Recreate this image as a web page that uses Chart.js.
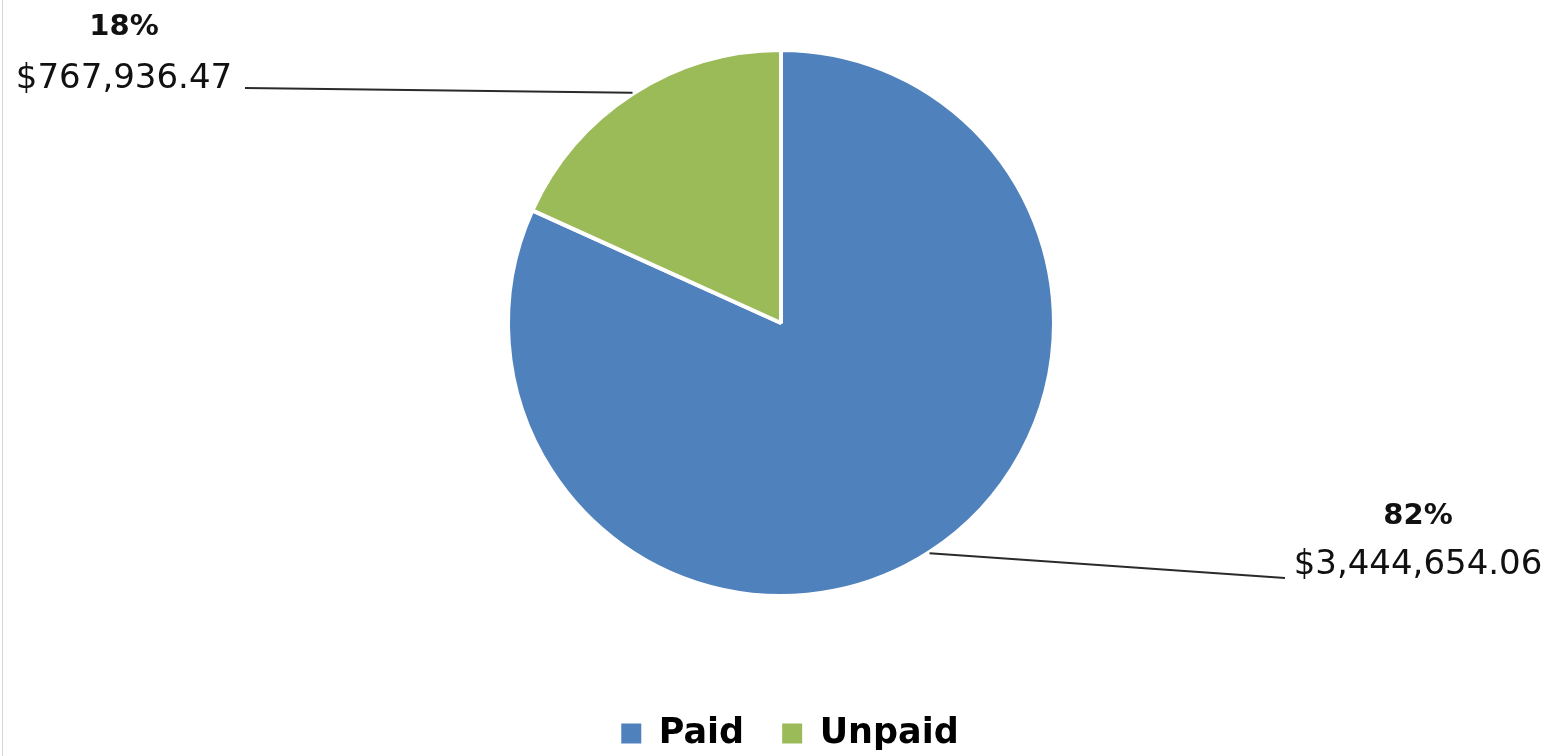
<!DOCTYPE html>
<html><head><meta charset="utf-8">
<script src="https://cdn.jsdelivr.net/npm/chart.js@4.4.1/dist/chart.umd.min.js"></script>
<style>
html,body{margin:0;padding:0;background:#fff;}
#wrap{position:relative;width:1554px;height:756px;overflow:hidden;}
#wrap:before{content:'';position:absolute;left:2px;top:0;width:1px;height:756px;background:#d6d6d6;}
canvas{display:block;}
</style>
</head><body>
<div id="wrap"><canvas id="c" width="1554" height="756" style="width:1554px;height:756px"></canvas></div>
<script>
const categories = ['Paid', 'Unpaid'];
const amounts = [3444654.06, 767936.47];
const sliceColors = ['#4F81BD', '#9BBB59'];

const fmtMoney = v => '$' + v.toLocaleString('en-US', {minimumFractionDigits: 2, maximumFractionDigits: 2});

const calloutPlugin = {
  id: 'callouts',
  afterLayout(chart, args, opts) {
    const lg = chart.legend;
    if (lg && opts.legendShift) { lg.left += opts.legendShift; lg.right += opts.legendShift; }
  },
  afterDatasetsDraw(chart, args, opts) {
    const ctx = chart.ctx;
    const meta = chart.getDatasetMeta(0);
    const vals = chart.data.datasets[0].data;
    const total = vals.reduce((a, b) => a + b, 0);
    meta.data.forEach((arc, i) => {
      const p = arc.getProps(['x', 'y', 'startAngle', 'endAngle', 'outerRadius'], true);
      const mid = (p.startAngle + p.endAngle) / 2;
      const ax = p.x + Math.cos(mid) * (p.outerRadius + 1);
      const ay = p.y + Math.sin(mid) * (p.outerRadius + 1);
      const a = opts.anchors[i];
      ctx.save();
      ctx.strokeStyle = '#2a2a2a';
      ctx.lineWidth = 2;
      ctx.beginPath();
      ctx.moveTo(ax, ay);
      ctx.lineTo(a.lx, a.ly);
      ctx.stroke();
      ctx.fillStyle = '#111';
      ctx.textAlign = 'center';
      ctx.textBaseline = 'alphabetic';
      ctx.font = 'bold 29px "DejaVu Sans"';
      ctx.fillText(Math.round(vals[i] / total * 100) + '%', a.tx, a.py);
      ctx.font = '34px "DejaVu Sans"';
      ctx.fillText(fmtMoney(vals[i]), a.tx, a.vy);
      ctx.restore();
    });
  }
};

new Chart(document.getElementById('c'), {
  type: 'pie',
  data: {
    labels: categories,
    datasets: [{
      data: amounts,
      backgroundColor: sliceColors,
      borderColor: '#ffffff',
      borderWidth: 4,
      radius: 273
    }]
  },
  options: {
    responsive: false,
    animation: false,
    layout: {padding: {top: 0, bottom: -5, left: 8, right: 0}},
    plugins: {
      legend: {
        position: 'bottom',
        title: {display: true, text: '', font: {size: 10}, padding: {top: 20, bottom: 0}},
        labels: {
          boxWidth: 20, boxHeight: 20, padding: 38, color: '#000',
          font: {family: 'DejaVu Sans', size: 35, weight: 'bold'},
          generateLabels(chart) {
            const items = Chart.controllers.pie.overrides.plugins.legend.labels.generateLabels(chart);
            items.forEach(it => { it.lineWidth = 0; it.strokeStyle = it.fillStyle; });
            return items;
          }
        }
      },
      tooltip: {enabled: false},
      callouts: {
        legendShift: 9,
        anchors: [
          {tx: 1418, py: 524, vy: 574, lx: 1285, ly: 578},
          {tx: 124, py: 35, vy: 88, lx: 245, ly: 88}
        ]
      }
    }
  },
  plugins: [calloutPlugin]
});
</script>
</body></html>
